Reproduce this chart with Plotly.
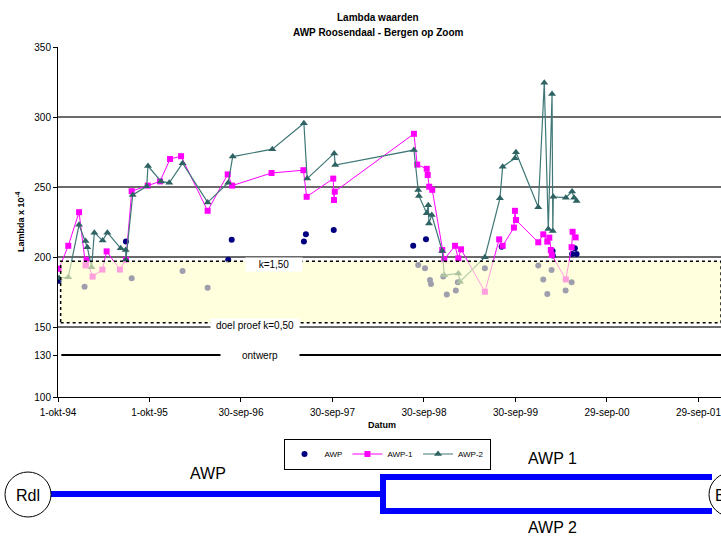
import plotly.graph_objects as go

# ---------------- data ----------------
awp_dates = ["1994-10-05", "1995-01-15", "1995-06-29", "1995-07-22", "1996-02-10", "1996-05-20",
             "1996-08-10", "1996-08-24", "1997-06-08", "1997-06-16", "1997-10-05", "1998-08-18",
             "1998-09-07", "1998-10-04", "1998-10-08", "1998-10-24", "1998-10-28", "1998-12-16",
             "1998-12-30", "1999-02-04", "1999-02-12", "1999-05-31", "1999-08-06", "1999-12-30",
             "2000-01-19", "2000-02-04", "2000-02-21", "2000-02-25", "2000-02-26", "2000-04-17",
             "2000-05-11", "2000-05-13", "2000-05-24", "2000-05-31"]
awp_vals = [183, 178.8, 211, 184.8, 190, 178,
            198, 212.4, 211, 216.2, 219.3, 208,
            194.3, 191.9, 212.6, 183.6, 180.7, 186,
            173.3, 176, 182, 192, 207.4, 194,
            184, 173.6, 190.7, 204.3, 201, 176,
            182, 202.1, 206.2, 202.1]

awp1_dates = ["1994-10-05", "1994-11-11", "1994-12-24", "1995-01-19", "1995-01-23", "1995-02-16",
              "1995-03-27", "1995-04-13", "1995-06-05", "1995-06-29", "1995-07-22", "1995-09-24",
              "1995-11-12", "1995-12-22", "1996-02-04", "1996-05-20", "1996-08-08", "1996-08-26",
              "1997-01-30", "1997-06-06", "1997-06-19", "1997-10-03", "1997-10-06", "1997-10-09",
              "1998-08-21", "1998-09-03", "1998-10-11", "1998-10-15", "1998-10-21", "1998-11-02",
              "1998-12-12", "1998-12-20", "1999-02-01", "1999-02-14", "1999-02-25", "1999-05-31",
              "1999-07-27", "1999-08-10", "1999-09-24", "1999-09-28", "1999-10-02", "1999-12-30",
              "2000-01-19", "2000-02-04", "2000-02-12", "2000-02-18", "2000-02-22", "2000-04-18",
              "2000-05-11", "2000-05-15", "2000-05-27"]
awp1_vals = [191.6, 208, 232, 194, 198, 186,
             191, 204, 191, 198, 247, 251,
             254, 270, 272, 233, 259, 251,
             260, 262, 243, 256, 240.7, 246.7,
             288, 266, 263, 258.6, 250.2, 248,
             205, 198.3, 208, 199, 205.5, 175.2,
             212.6, 208, 221, 233, 226.4, 210.5,
             216.2, 211, 213.8, 205, 201.4, 184,
             207, 218, 214]

awp2_dates = ["1994-10-05", "1994-11-11", "1994-12-24", "1995-01-19", "1995-01-26", "1995-02-12",
              "1995-02-23", "1995-03-28", "1995-04-16", "1995-06-08", "1995-06-28", "1995-06-29",
              "1995-07-26", "1995-09-20", "1995-09-25", "1995-11-16", "1995-12-19", "1996-02-10",
              "1996-05-20", "1996-08-10", "1996-08-28", "1997-02-02", "1997-06-08", "1997-06-21",
              "1997-10-07", "1997-10-11", "1998-08-21", "1998-09-07", "1998-09-10", "1998-10-11",
              "1998-10-17", "1998-10-20", "1998-10-31", "1998-12-12", "1998-12-20", "1999-02-14",
              "1999-02-21", "1999-05-31", "1999-07-30", "1999-08-10", "1999-09-28", "1999-10-02",
              "1999-12-30", "2000-01-23", "2000-02-08", "2000-02-23", "2000-02-26", "2000-02-28",
              "2000-04-18", "2000-05-13", "2000-05-21", "2000-05-31"]
awp2_vals = [185, 185.5, 223, 211.4, 207, 192.6,
             217.4, 211.7, 217.4, 206.2, 205, 198,
             244.3, 250.5, 265, 254, 253, 267,
             239, 253, 271.7, 277, 295.5, 256,
             274, 265.7, 276.4, 247.9, 243.6, 231.2,
             237, 224, 230, 204.3, 187, 188.3,
             182.4, 199.8, 241.9, 264.5, 270.5, 274.8,
             235.5, 324.5, 220, 316.4, 218.6, 243,
             242.4, 246.7, 242.4, 240]

x_ticks = ["1994-10-01", "1995-10-01", "1996-09-30", "1997-09-30",
           "1998-09-30", "1999-09-30", "2000-09-29", "2001-09-29"]
x_ticklabels = ["1-okt-94", "1-okt-95", "30-sep-96", "30-sep-97",
                "30-sep-98", "30-sep-99", "29-sep-00", "29-sep-01"]
y_ticks = [100, 130, 150, 200, 250, 300, 350]

grid_levels = [300, 250, 200, 150]
band_low, band_high = 153, 197
ontwerp_level = 130

# ---------------- layout helpers ----------------
W, H = 721, 536
L, R, T, B = 58, 0, 47, 139
PW, PH = W - L - R, H - T - B


def px(x):
    return (x - L) / PW


def py(y):
    return (H - B - y) / PH


FONT = "Liberation Sans, Arial, sans-serif"
BLUE = "#0000FF"

fig = go.Figure()
fig.add_trace(go.Scatter(x=awp_dates, y=awp_vals, mode="markers", name="AWP",
                         marker=dict(symbol="circle", size=6, color="#000080")))
fig.add_trace(go.Scatter(x=awp1_dates, y=awp1_vals, mode="lines+markers", name="AWP-1",
                         line=dict(color="#FF00FF", width=1),
                         marker=dict(symbol="square", size=6, color="#FF00FF")))
fig.add_trace(go.Scatter(x=awp2_dates, y=awp2_vals, mode="lines+markers", name="AWP-2",
                         line=dict(color="#3F7777", width=1.2),
                         marker=dict(symbol="triangle-up", size=7, color="#2F6363")))

shapes = []
for g in grid_levels:
    shapes.append(dict(type="line", xref="paper", yref="y", x0=0, x1=1, y0=g, y1=g,
                       line=dict(color="#6a6a6a", width=2), layer="below"))
shapes.append(dict(type="line", xref="paper", yref="y", x0=0.005, x1=1, y0=ontwerp_level,
                   y1=ontwerp_level, line=dict(color="black", width=2), layer="below"))
shapes.append(dict(type="rect", xref="paper", yref="y", x0=0.004, x1=1, y0=band_low, y1=band_high,
                   fillcolor="rgba(255,255,200,0.62)", line=dict(color="black", width=1.5, dash="dot"),
                   layer="above"))

# bottom pipeline diagram
shapes.append(dict(type="line", xref="paper", yref="paper", x0=px(51), x1=px(383), y0=py(494), y1=py(494),
                   line=dict(color=BLUE, width=6)))
shapes.append(dict(type="line", xref="paper", yref="paper", x0=px(383), x1=px(383), y0=py(474), y1=py(514),
                   line=dict(color=BLUE, width=6)))
shapes.append(dict(type="line", xref="paper", yref="paper", x0=px(380), x1=px(712), y0=py(477), y1=py(477),
                   line=dict(color=BLUE, width=6)))
shapes.append(dict(type="line", xref="paper", yref="paper", x0=px(380), x1=px(712), y0=py(511), y1=py(511),
                   line=dict(color=BLUE, width=6)))
shapes.append(dict(type="circle", xref="paper", yref="paper", x0=px(5), x1=px(51), y0=py(517), y1=py(472),
                   line=dict(color="black", width=1), fillcolor="white"))
shapes.append(dict(type="circle", xref="paper", yref="paper", x0=px(709), x1=px(757), y0=py(517), y1=py(472),
                   line=dict(color="black", width=1), fillcolor="white"))


def note(text, x, y, size=10, **kw):
    d = dict(text=text, x=px(x), y=py(y), xref="paper", yref="paper", showarrow=False,
             xanchor="center", yanchor="middle", font=dict(size=size))
    d.update(kw)
    return d


annotations = [
    note("<b>Lambda waarden</b>", 378, 17),
    note("<b>AWP Roosendaal - Bergen op Zoom</b>", 378, 33),
    note("<b>Lambda x 10<sup>-4</sup></b>", 20, 222, size=9, textangle=-90),
    note("<b>Datum</b>", 382, 425, size=9),
    note("k=1,50", 274, 264.5, bgcolor="white", width=54),
    note("doel proef k=0,50", 255, 325, bgcolor="white", width=86),
    note("ontwerp", 260, 355, bgcolor="white", width=76),
    note("AWP", 208, 473, size=16),
    note("AWP 1", 552, 459, size=16),
    note("AWP 2", 552, 527, size=16),
    note("Rdl", 28, 495, size=16),
    note("B", 713, 495, size=16, xanchor="left"),
]

fig.update_layout(
    width=W, height=H,
    margin=dict(l=L, r=R, t=T, b=B, autoexpand=False),
    paper_bgcolor="white", plot_bgcolor="white",
    font=dict(family=FONT, size=10, color="black"),
    showlegend=True,
    legend=dict(orientation="h", x=px(387), y=py(454), xanchor="center", yanchor="middle",
                bordercolor="black", borderwidth=1, bgcolor="white",
                font=dict(size=8), itemwidth=30, tracegroupgap=0),
    shapes=shapes,
    annotations=annotations,
)
fig.update_xaxes(type="date", range=["1994-10-01", "2001-12-28"], tickvals=x_ticks,
                 ticktext=x_ticklabels, showgrid=False, zeroline=False, showline=True,
                 linecolor="black", linewidth=1, ticks="outside", ticklen=4, tickcolor="black",
                 tickfont=dict(size=10), automargin=False, ticklabeloverflow="allow",
                 ticklabelstandoff=2)
fig.update_yaxes(range=[100, 350], tickvals=y_ticks, showgrid=False, zeroline=False,
                 showline=True, linecolor="black", linewidth=1, ticks="outside", ticklen=4,
                 tickcolor="black", tickfont=dict(size=10), automargin=False)

fig.write_html("out.html", post_script="document.body.style.margin='0';",
               config={"displayModeBar": False})
